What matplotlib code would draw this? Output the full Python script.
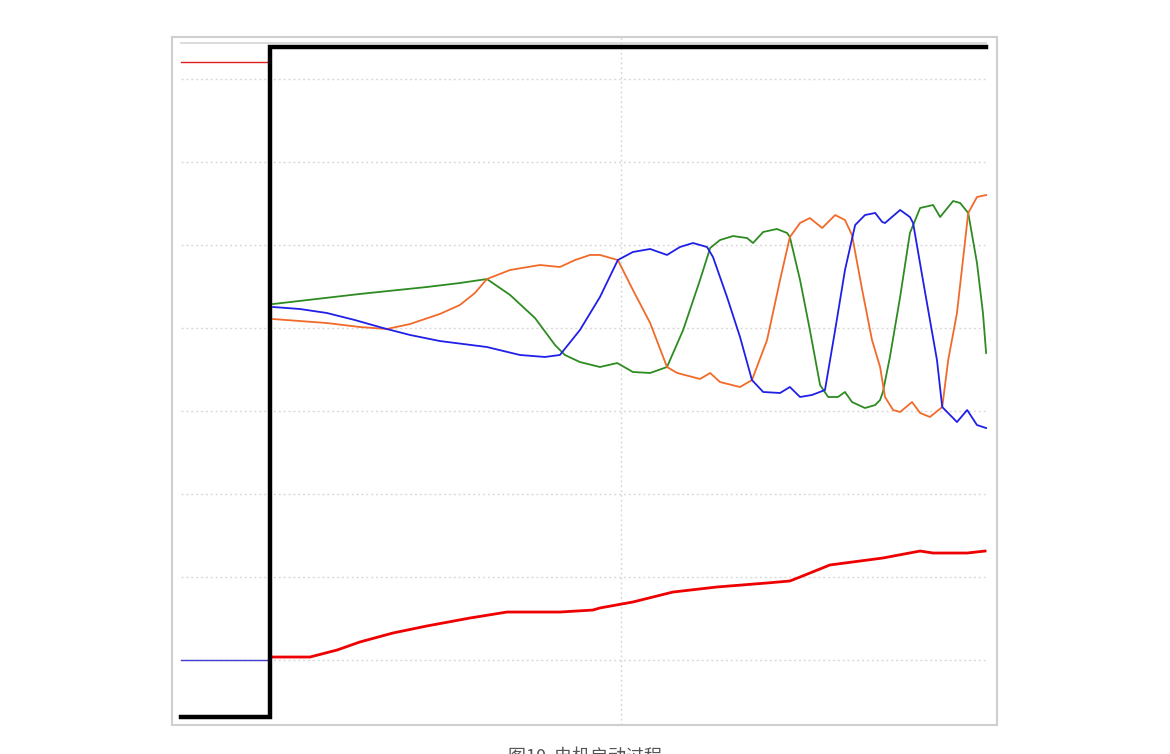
import matplotlib
matplotlib.use("Agg")
import matplotlib.pyplot as plt

# ---- data (time in s, value in grid units) ----
green_t = [0.009, 0.256, 0.447, 0.541, 0.618, 0.684, 0.755, 0.812, 0.840, 0.883, 0.940, 0.989,
           1.034, 1.083, 1.131, 1.177, 1.225, 1.254, 1.282, 1.319, 1.359, 1.376, 1.405, 1.444,
           1.473, 1.481, 1.510, 1.538, 1.567, 1.590, 1.618, 1.638, 1.658, 1.695, 1.724, 1.738,
           1.746, 1.766, 1.795, 1.823, 1.852, 1.889, 1.909, 1.946, 1.966, 1.989, 2.014, 2.031, 2.040]
green_v = [4.289, 4.410, 4.494, 4.542, 4.590, 4.398, 4.120, 3.795, 3.675, 3.590, 3.530, 3.578,
           3.470, 3.458, 3.530, 3.976, 4.578, 4.964, 5.060, 5.108, 5.084, 5.024, 5.157, 5.193,
           5.145, 5.096, 4.578, 3.976, 3.313, 3.169, 3.169, 3.229, 3.108, 3.036, 3.072, 3.133,
           3.229, 3.651, 4.373, 5.145, 5.446, 5.482, 5.337, 5.530, 5.506, 5.386, 4.783, 4.181, 3.699]

orange_t = [0.009, 0.162, 0.256, 0.333, 0.399, 0.484, 0.541, 0.584, 0.618, 0.684, 0.769, 0.826,
            0.869, 0.912, 0.940, 0.991, 1.034, 1.083, 1.131, 1.160, 1.225, 1.254, 1.282, 1.339,
            1.373, 1.416, 1.453, 1.481, 1.510, 1.538, 1.573, 1.610, 1.638, 1.658, 1.687, 1.715,
            1.738, 1.752, 1.775, 1.795, 1.829, 1.852, 1.880, 1.915, 1.932, 1.957, 1.974, 1.989,
            2.014, 2.040]
orange_v = [4.108, 4.060, 4.012, 3.988, 4.048, 4.169, 4.277, 4.422, 4.590, 4.699, 4.759, 4.735,
            4.819, 4.880, 4.880, 4.819, 4.458, 4.060, 3.530, 3.458, 3.386, 3.458, 3.349, 3.289,
            3.373, 3.855, 4.578, 5.096, 5.265, 5.325, 5.205, 5.361, 5.301, 5.120, 4.458, 3.855,
            3.530, 3.169, 3.012, 2.988, 3.108, 2.976, 2.928, 3.048, 3.614, 4.181, 4.819, 5.386,
            5.578, 5.602]

blue_t = [0.009, 0.085, 0.162, 0.242, 0.322, 0.399, 0.484, 0.618, 0.712, 0.783, 0.826, 0.883,
          0.940, 0.991, 1.034, 1.083, 1.131, 1.168, 1.205, 1.245, 1.262, 1.302, 1.339, 1.373,
          1.405, 1.453, 1.481, 1.510, 1.544, 1.581, 1.610, 1.638, 1.667, 1.695, 1.724, 1.744,
          1.752, 1.795, 1.823, 1.832, 1.860, 1.880, 1.900, 1.915, 1.957, 1.986, 2.014, 2.040]
blue_v = [4.253, 4.229, 4.181, 4.096, 4.000, 3.916, 3.843, 3.771, 3.675, 3.651, 3.675, 3.976,
          4.373, 4.819, 4.916, 4.952, 4.880, 4.976, 5.024, 4.976, 4.855, 4.373, 3.892, 3.373,
          3.229, 3.217, 3.289, 3.169, 3.193, 3.253, 3.976, 4.699, 5.241, 5.361, 5.386, 5.277,
          5.265, 5.422, 5.337, 5.265, 4.578, 4.096, 3.614, 3.048, 2.867, 3.012, 2.831, 2.795]

red_t = [0.006, 0.114, 0.191, 0.256, 0.350, 0.447, 0.570, 0.675, 0.826, 0.920, 0.940, 1.034,
         1.148, 1.274, 1.416, 1.481, 1.510, 1.595, 1.746, 1.852, 1.889, 1.986, 2.037]
red_v = [0.036, 0.036, 0.120, 0.217, 0.325, 0.410, 0.506, 0.578, 0.578, 0.602, 0.627, 0.699,
         0.819, 0.880, 0.928, 0.952, 1.000, 1.145, 1.229, 1.313, 1.289, 1.289, 1.313]

step_t = [-0.254, 0.0, 0.0, 2.040]
step_v = [-0.687, -0.687, 7.386, 7.386]

pre_t = [-0.254, 0.0]
pre_red_v = [7.205, 7.205]
pre_blue_v = [0.0, 0.0]

grid_levels = [0, 1, 2, 3, 4, 5, 6, 7]
top_ref = 7.434
t_start, t_end = -0.254, 2.040

caption = "图10  电机启动过程"

# ---- figure ----
fig = plt.figure(figsize=(11.7, 7.54), dpi=100)
ax = fig.add_axes([172 / 1170, 1 - 725 / 754, 825 / 1170, 688 / 754])
ax.set_xlim(-0.279, 2.071)
ax.set_ylim(-0.783, 7.506)

for lv in grid_levels:
    ax.plot([t_start, t_end], [lv, lv], color="#d9d9d9", lw=1.0, ls=(0, (1.5, 2)), zorder=1)
ax.plot([t_start, t_end], [top_ref, top_ref], color="#d4d4d4", lw=1.2, zorder=1)
ax.axvline(1.0, color="#d9d9d9", lw=1.0, ls=(0, (1.5, 2)), zorder=1)

ax.plot(pre_t, pre_red_v, color="#e02020", lw=1.0, zorder=3)
ax.plot(pre_t, pre_blue_v, color="#4040d0", lw=1.0, zorder=3)

ax.plot(green_t, green_v, color="#2e8b22", lw=1.3, zorder=4)
ax.plot(orange_t, orange_v, color="#f26a2a", lw=1.3, zorder=4)
ax.plot(blue_t, blue_v, color="#1f1fe8", lw=1.3, zorder=4)
ax.plot(red_t, red_v, color="#ee0000", lw=2.0, zorder=4)

ax.plot(step_t, step_v, color="black", lw=3.2, zorder=5, solid_joinstyle="miter")

ax.set_xticks([])
ax.set_yticks([])
for s in ax.spines.values():
    s.set_color("#cfcfcf")
    s.set_linewidth(1.5)

fig.text(0.5, 1 - 748 / 754, caption, ha="center", va="top", fontsize=13,
         color="#555555", family=["Noto Sans CJK SC", "DejaVu Sans"])

fig.savefig("out.png", dpi=100, facecolor="white")
